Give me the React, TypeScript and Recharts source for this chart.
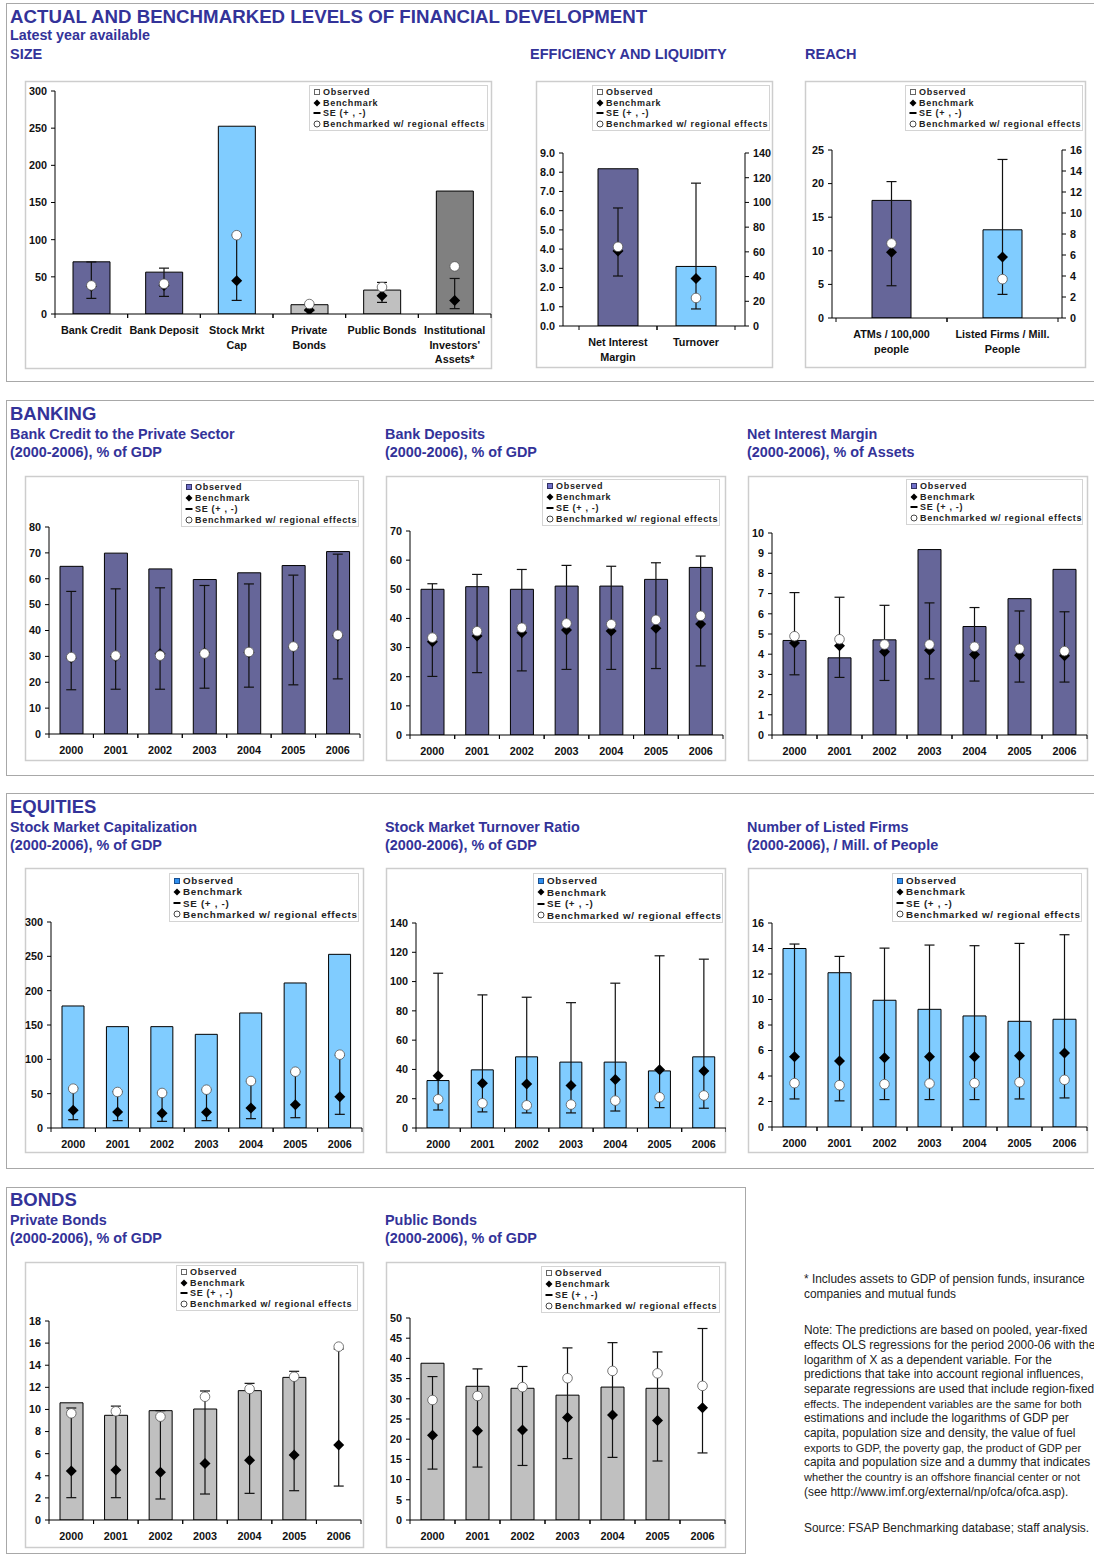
import React from 'react'
import { ComposedChart, Bar, Line, XAxis, YAxis, ErrorBar, Cell } from 'recharts'

const FONT = '"Liberation Sans", Arial, Helvetica, sans-serif'
const TITLE_BLUE = '#333399'
const PURPLE = '#666699'
const SKY = '#80CCFF'
const LIGHT_GRAY = '#C0C0C0'
const DARK_GRAY = '#808080'

// ---------- data ----------
const years = ['2000', '2001', '2002', '2003', '2004', '2005', '2006']

// size, latest year available
const sizeCats = ['Bank Credit', 'Bank Deposit', 'Stock Mrkt\nCap', 'Private\nBonds', 'Public Bonds', "Institutional\nInvestors'\nAssets*"]
const sizeObs = [70.2, 56.3, 252.6, 12.5, 32.2, 165.4]
const sizeBench = [37.5, 38.5, 44.7, 5.4, 24.6, 18.3]
const sizeLo = [21.0, 23.7, 18.3, 4.5, 15.6, 7.2]
const sizeHi = [70.0, 61.7, 106.0, 12.5, 42.5, 47.8]
const sizeReg = [38.4, 40.7, 106.0, 13.4, 36.2, 64.0]
const sizeTicks = [0, 50, 100, 150, 200, 250, 300]

// efficiency and liquidity (NIM on left axis, turnover on right axis)
const effCats = ['Net Interest\nMargin', 'Turnover']
const effObs = [8.18, 48.2]
const effBench = [3.9, 38.5]
const effLo = [2.6, 13.8]
const effHi = [6.14, 115.6]
const effReg = [4.12, 22.7]
const effLeftTicks = [0, 1, 2, 3, 4, 5, 6, 7, 8, 9]
const effRightTicks = [0, 20, 40, 60, 80, 100, 120, 140]

// reach (ATMs on left axis, listed firms on right axis)
const reachCats = ['ATMs / 100,000\npeople', 'Listed Firms / Mill.\nPeople']
const reachObs = [17.5, 8.4]
const reachBench = [9.8, 5.8]
const reachLo = [4.8, 2.25]
const reachHi = [20.3, 15.1]
const reachReg = [11.1, 3.7]
const reachLeftTicks = [0, 5, 10, 15, 20, 25]
const reachRightTicks = [0, 2, 4, 6, 8, 10, 12, 14, 16]

// banking
const bankCreditObs = [64.8, 69.9, 63.8, 59.7, 62.3, 65.1, 70.5]
const bankCreditBench = [29.4, 30.0, 31.0, 31.4, 31.5, 33.6, 38.0]
const bankCreditLo = [17.1, 17.3, 17.3, 17.7, 18.1, 19.0, 21.3]
const bankCreditHi = [55.1, 56.1, 56.5, 57.4, 58.0, 61.4, 69.5]
const bankCreditReg = [29.7, 30.3, 30.3, 31.1, 31.7, 33.8, 38.3]
const bankCreditTicks = [0, 10, 20, 30, 40, 50, 60, 70, 80]

const bankDepObs = [50.0, 50.9, 50.0, 51.1, 51.1, 53.4, 57.5]
const bankDepBench = [32.0, 34.0, 35.1, 36.0, 35.7, 36.6, 38.1]
const bankDepLo = [20.1, 21.4, 22.0, 22.5, 22.5, 22.8, 23.7]
const bankDepHi = [51.9, 55.1, 56.8, 58.2, 57.9, 59.1, 61.4]
const bankDepReg = [33.4, 35.6, 36.8, 38.3, 38.0, 39.5, 40.9]
const bankDepTicks = [0, 10, 20, 30, 40, 50, 60, 70]

const nimObs = [4.68, 3.82, 4.71, 9.18, 5.37, 6.75, 8.2]
const nimBench = [4.56, 4.42, 4.12, 4.2, 3.99, 3.95, 3.92]
const nimLo = [2.98, 2.85, 2.7, 2.78, 2.67, 2.62, 2.62]
const nimHi = [7.05, 6.82, 6.42, 6.54, 6.31, 6.14, 6.1]
const nimReg = [4.89, 4.74, 4.48, 4.48, 4.37, 4.27, 4.15]
const nimTicks = [0, 1, 2, 3, 4, 5, 6, 7, 8, 9, 10]

// equities
const mcapObs = [177.7, 147.6, 147.6, 136.4, 167.5, 211.2, 252.9]
const mcapBench = [25.7, 23.3, 21.4, 22.8, 29.1, 34.0, 45.6]
const mcapLo = [12.1, 10.7, 9.7, 10.7, 13.6, 15.0, 19.9]
const mcapHi = [58.0, 53.0, 51.5, 56.0, 68.0, 82.0, 106.0]
const mcapReg = [57.3, 52.4, 51.0, 55.8, 68.4, 82.0, 106.8]
const mcapTicks = [0, 50, 100, 150, 200, 250, 300]

const turnObs = [32.4, 39.7, 48.6, 45.0, 45.0, 39.0, 48.6]
const turnBench = [35.6, 30.6, 30.1, 29.0, 33.1, 39.7, 39.0]
const turnLo = [12.3, 11.0, 10.3, 10.3, 11.6, 13.9, 13.5]
const turnHi = [105.7, 90.9, 89.3, 85.6, 98.9, 117.6, 115.3]
const turnReg = [19.6, 16.9, 15.5, 16.0, 18.7, 21.0, 22.2]
const turnTicks = [0, 20, 40, 60, 80, 100, 120, 140]

const listedObs = [14.0, 12.1, 9.94, 9.23, 8.71, 8.29, 8.45]
const listedBench = [5.51, 5.17, 5.43, 5.51, 5.51, 5.59, 5.8]
const listedLo = [2.2, 2.05, 2.15, 2.15, 2.15, 2.2, 2.28]
const listedHi = [14.35, 13.38, 14.03, 14.27, 14.22, 14.4, 15.08]
const listedReg = [3.44, 3.28, 3.36, 3.41, 3.44, 3.51, 3.7]
const listedTicks = [0, 2, 4, 6, 8, 10, 12, 14, 16]

// bonds (no observed value for 2006)
const privObs = [10.6, 9.47, 9.89, 10.04, 11.7, 12.9, null]
const privBench = [4.43, 4.52, 4.31, 5.1, 5.4, 5.88, 6.78]
const privLo = [2.02, 2.02, 1.9, 2.35, 2.41, 2.65, 3.07]
const privHi = [10.13, 10.3, 9.89, 11.67, 12.36, 13.45, 15.47]
const privReg = [9.65, 9.83, 9.35, 11.15, 11.85, 12.96, 15.68]
const privTicks = [0, 2, 4, 6, 8, 10, 12, 14, 16, 18]

const pubObs = [38.8, 33.1, 32.6, 30.9, 32.9, 32.6, null]
const pubBench = [21.0, 22.1, 22.3, 25.4, 26.0, 24.6, 27.8]
const pubLo = [12.6, 13.1, 13.5, 15.2, 15.5, 14.6, 16.6]
const pubHi = [35.5, 37.4, 38.0, 42.6, 43.9, 41.6, 47.4]
const pubReg = [29.7, 30.7, 32.9, 35.1, 36.9, 36.3, 33.2]
const pubTicks = [0, 5, 10, 15, 20, 25, 30, 35, 40, 45, 50]

const legendLabels = ['Observed', 'Benchmark', 'SE (+ , -)', 'Benchmarked w/ regional effects']

const footnote = [
  '* Includes assets to GDP of pension funds, insurance',
  'companies and mutual funds',
  'Note: The predictions are based on pooled, year-fixed',
  'effects OLS regressions for the period 2000-06 with the',
  'logarithm of X as a dependent variable. For the',
  'predictions that take into account regional influences,',
  'separate regressions are used that include region-fixed',
  'effects. The independent variables are the same for both',
  'estimations and include the logarithms of GDP per',
  'capita, population size and density, the value of fuel',
  'exports to GDP, the poverty gap, the product of GDP per',
  'capita and population size and a dummy that indicates',
  'whether the country is an offshore financial center or not',
  '(see http://www.imf.org/external/np/ofca/ofca.asp).',
  'Source: FSAP Benchmarking database; staff analysis.',
]
const footnoteY = [1283, 1298, 1334, 1349, 1364, 1378, 1393, 1408, 1422, 1437, 1452, 1466, 1481, 1496, 1532]
// these lines run past the page edge at full size, so they use a slightly smaller font
const footnoteLong = [7, 10, 12]

// ---------- helpers ----------
type Box = { x: number; y: number; w: number; h: number }
type Plot = { left: number; top: number; right: number; bottom: number }

const makeRows = (cats: string[], obs: (number | null)[], bench: number[], lo: number[], hi: number[], reg: number[]) =>
  cats.map((cat, i) => ({ cat, obs: obs[i], bench: bench[i], lo: lo[i], hi: hi[i], reg: reg[i] }))

// each category gets its own axis pair: first one left, second one right
const makeDualRows = (cats: string[], obs: number[], bench: number[], lo: number[], hi: number[], reg: number[]) =>
  cats.map((cat, i) => {
    const s = i === 0 ? 'L' : 'R'
    return { cat, ['obs' + s]: obs[i], ['bench' + s]: bench[i], ['lo' + s]: lo[i], ['hi' + s]: hi[i], ['reg' + s]: reg[i] }
  })

// SE drawn as an asymmetric error bar around the benchmark
const seRange = (s: string) => (r: any) =>
  r['bench' + s] == null ? null : [r['bench' + s] - r['lo' + s], r['hi' + s] - r['bench' + s]]

const axisTick = { fontSize: 10.8, fontWeight: 'bold', fill: '#111', fontFamily: FONT }

const renderDiamond = (p: any) => {
  const { cx, cy, index, value } = p
  if (cx == null || cy == null || value == null) return <g key={`dm-${index}`} />
  const s = 5.5
  return (
    <polygon
      key={`dm-${index}`}
      points={`${cx},${cy - s} ${cx + s},${cy} ${cx},${cy + s} ${cx - s},${cy}`}
      fill="#000"
    />
  )
}

const renderCircle = (p: any) => {
  const { cx, cy, index, value } = p
  if (cx == null || cy == null || value == null) return <g key={`c-${index}`} />
  return <circle key={`c-${index}`} cx={cx} cy={cy} r={4.8} fill="#fff" stroke="#555" strokeWidth={0.8} />
}

const CatTick = (props: any) => {
  const { x, y, payload, half } = props
  const lines = String(payload.value).split('\n')
  return (
    <g>
      <line x1={x - half} x2={x - half} y1={y} y2={y + 4} stroke="#000" />
      <line x1={x + half} x2={x + half} y1={y} y2={y + 4} stroke="#000" />
      <text x={x} y={y + 20} textAnchor="middle" fontSize={10.8} fontWeight="bold" fontFamily={FONT} fill="#111">
        {lines.map((l, i) => (
          <tspan key={i} x={x} dy={i === 0 ? 0 : 14.5}>
            {l}
          </tspan>
        ))}
      </text>
    </g>
  )
}

function BenchChart({ box, plot, rows, yTicks, colors, barSize }: {
  box: Box; plot: Plot; rows: any[]; yTicks: number[]; colors: string[]; barSize: number
}) {
  const yW = plot.left - box.x
  const xH = box.y + box.h - plot.bottom
  const half = (plot.right - plot.left) / rows.length / 2
  return (
    <div style={{ position: 'absolute', left: box.x, top: box.y }}>
      <ComposedChart
        width={box.w}
        height={box.h}
        data={rows}
        margin={{ top: plot.top - box.y, right: box.x + box.w - plot.right, bottom: 0, left: 0 }}
      >
        <XAxis dataKey="cat" height={xH} interval={0} tickLine={false} tickSize={0} tickMargin={0}
          axisLine={{ stroke: '#000' }} tick={<CatTick half={half} />} />
        <YAxis width={yW} domain={[yTicks[0], yTicks[yTicks.length - 1]]} ticks={yTicks} interval={0}
          allowDataOverflow tickSize={4} tickMargin={4} axisLine={{ stroke: '#000' }} tickLine={{ stroke: '#000' }}
          tick={axisTick} />
        <Bar dataKey="obs" barSize={barSize} stroke="#000" strokeWidth={1} isAnimationActive={false}>
          {rows.map((r, i) => <Cell key={r.cat} fill={colors[i % colors.length]} />)}
        </Bar>
        <Line dataKey="bench" stroke="none" dot={renderDiamond} activeDot={false} isAnimationActive={false}>
          <ErrorBar dataKey={seRange('')} width={5} stroke="#111" strokeWidth={1.2} direction="y" isAnimationActive={false} />
        </Line>
        <Line dataKey="reg" stroke="none" dot={renderCircle} activeDot={false} isAnimationActive={false} />
      </ComposedChart>
    </div>
  )
}

function DualChart({ box, plot, rows, leftTicks, rightTicks, leftFmt, pad, barSize, colors }: {
  box: Box; plot: Plot; rows: any[]; leftTicks: number[]; rightTicks: number[]
  leftFmt?: (v: number) => string; pad: { left: number; right: number }; barSize: number; colors: string[]
}) {
  const yLW = plot.left - box.x
  const yRW = box.x + box.w - plot.right
  const xH = box.y + box.h - plot.bottom
  const half = (plot.right - plot.left - pad.left - pad.right) / rows.length / 2
  const yProps = {
    interval: 0 as const, allowDataOverflow: true, tickSize: 4, tickMargin: 4,
    axisLine: { stroke: '#000' }, tickLine: { stroke: '#000' }, tick: axisTick,
  }
  return (
    <div style={{ position: 'absolute', left: box.x, top: box.y }}>
      <ComposedChart width={box.w} height={box.h} data={rows} margin={{ top: plot.top - box.y, right: 0, bottom: 0, left: 0 }}>
        <XAxis xAxisId="l" dataKey="cat" height={xH} interval={0} padding={pad} tickLine={false} tickSize={0}
          tickMargin={0} axisLine={{ stroke: '#000' }} tick={<CatTick half={half} />} />
        <XAxis xAxisId="r" dataKey="cat" padding={pad} hide />
        <YAxis yAxisId="l" width={yLW} domain={[leftTicks[0], leftTicks[leftTicks.length - 1]]} ticks={leftTicks}
          tickFormatter={leftFmt} {...yProps} />
        <YAxis yAxisId="r" orientation="right" width={yRW} domain={[rightTicks[0], rightTicks[rightTicks.length - 1]]}
          ticks={rightTicks} {...yProps} />
        <Bar xAxisId="l" yAxisId="l" dataKey="obsL" barSize={barSize} fill={colors[0]} stroke="#000" isAnimationActive={false} />
        <Bar xAxisId="r" yAxisId="r" dataKey="obsR" barSize={barSize} fill={colors[1]} stroke="#000" isAnimationActive={false} />
        <Line xAxisId="l" yAxisId="l" dataKey="benchL" stroke="none" dot={renderDiamond} activeDot={false} isAnimationActive={false}>
          <ErrorBar dataKey={seRange('L')} width={5} stroke="#111" strokeWidth={1.2} direction="y" isAnimationActive={false} />
        </Line>
        <Line xAxisId="r" yAxisId="r" dataKey="benchR" stroke="none" dot={renderDiamond} activeDot={false} isAnimationActive={false}>
          <ErrorBar dataKey={seRange('R')} width={5} stroke="#111" strokeWidth={1.2} direction="y" isAnimationActive={false} />
        </Line>
        <Line xAxisId="l" yAxisId="l" dataKey="regL" stroke="none" dot={renderCircle} activeDot={false} isAnimationActive={false} />
        <Line xAxisId="r" yAxisId="r" dataKey="regR" stroke="none" dot={renderCircle} activeDot={false} isAnimationActive={false} />
      </ComposedChart>
    </div>
  )
}

const legendIcon = (i: number, swatch: { fill: string; stroke: string }) => {
  if (i === 0) return <rect x={1.5} y={1.5} width={5} height={5} fill={swatch.fill} stroke={swatch.stroke} strokeWidth={1} />
  if (i === 1) return <polygon points="4,0.5 7.5,4 4,7.5 0.5,4" fill="#000" />
  if (i === 2) return <rect x={0.5} y={3} width={7} height={2} fill="#000" />
  return <circle cx={4} cy={4} r={3} fill="#fff" stroke="#333" strokeWidth={0.9} />
}

function LegendBox({ box, swatch, fontSize }: { box: Box; swatch: { fill: string; stroke: string }; fontSize: number }) {
  const rowH = (box.h - 4) / 4
  return (
    <div style={{
      position: 'absolute', left: box.x, top: box.y, width: box.w, height: box.h, boxSizing: 'border-box',
      border: '1px solid #d4d4d4', background: '#fff', paddingTop: 1, paddingLeft: 3,
    }}>
      {legendLabels.map((label, i) => (
        <div key={label} style={{
          display: 'flex', alignItems: 'center', height: rowH, fontFamily: FONT, fontWeight: 'bold',
          fontSize, letterSpacing: 0.7, color: '#222', whiteSpace: 'nowrap',
        }}>
          <svg width={8} height={8} style={{ marginRight: 2, flexShrink: 0 }}>{legendIcon(i, swatch)}</svg>
          {label}
        </div>
      ))}
    </div>
  )
}

// ---------- layout ----------
const boxes: Record<string, Box> = {
  size: { x: 25, y: 81, w: 467, h: 288 },
  eff: { x: 536, y: 81, w: 237, h: 287 },
  reach: { x: 805, y: 81, w: 281, h: 287 },
  b1: { x: 25, y: 476, w: 339, h: 285 },
  b2: { x: 386, y: 476, w: 340, h: 285 },
  b3: { x: 748, y: 476, w: 340, h: 285 },
  e1: { x: 25, y: 868, w: 339, h: 285 },
  e2: { x: 386, y: 868, w: 340, h: 285 },
  e3: { x: 748, y: 868, w: 340, h: 285 },
  bo1: { x: 25, y: 1262, w: 339, h: 286 },
  bo2: { x: 386, y: 1262, w: 340, h: 286 },
}

const plots: Record<string, Plot> = {
  size: { left: 55, top: 91, right: 491, bottom: 314 },
  eff: { left: 563, top: 153, right: 745, bottom: 326 },
  reach: { left: 832, top: 150, right: 1062, bottom: 318 },
  b1: { left: 49, top: 527, right: 360, bottom: 734 },
  b2: { left: 410, top: 531, right: 723, bottom: 735 },
  b3: { left: 772, top: 533, right: 1087, bottom: 735 },
  e1: { left: 51, top: 922, right: 362, bottom: 1128 },
  e2: { left: 416, top: 923, right: 726, bottom: 1128 },
  e3: { left: 772, top: 923, right: 1087, bottom: 1127 },
  bo1: { left: 49, top: 1321, right: 361, bottom: 1520 },
  bo2: { left: 410, top: 1318, right: 725, bottom: 1520 },
}

const outlineSwatch = { fill: '#fff', stroke: '#666' }
const purpleSwatch = { fill: '#7070C8', stroke: '#333366' }
const blueSwatch = { fill: '#2F8FEF', stroke: '#1A4F8F' }

const headers = [
  { t: 'ACTUAL AND BENCHMARKED LEVELS OF FINANCIAL DEVELOPMENT', x: 10, y: 23, s: 18.7 },
  { t: 'Latest year available', x: 10, y: 40, s: 14.3 },
  { t: 'SIZE', x: 10, y: 59, s: 14.5 },
  { t: 'EFFICIENCY AND LIQUIDITY', x: 530, y: 59, s: 14.5 },
  { t: 'REACH', x: 805, y: 59, s: 14.5 },
  { t: 'BANKING', x: 10, y: 420, s: 18.5 },
  { t: 'Bank Credit to the Private Sector', x: 10, y: 439, s: 14.4 },
  { t: '(2000-2006), % of GDP', x: 10, y: 457, s: 14.4 },
  { t: 'Bank Deposits', x: 385, y: 439, s: 14.4 },
  { t: '(2000-2006), % of GDP', x: 385, y: 457, s: 14.4 },
  { t: 'Net Interest Margin', x: 747, y: 439, s: 14.4 },
  { t: '(2000-2006), % of Assets', x: 747, y: 457, s: 14.4 },
  { t: 'EQUITIES', x: 10, y: 813, s: 18.5 },
  { t: 'Stock Market Capitalization', x: 10, y: 832, s: 14.4 },
  { t: '(2000-2006), % of GDP', x: 10, y: 850, s: 14.4 },
  { t: 'Stock Market Turnover Ratio', x: 385, y: 832, s: 14.4 },
  { t: '(2000-2006), % of GDP', x: 385, y: 850, s: 14.4 },
  { t: 'Number of Listed Firms', x: 747, y: 832, s: 14.4 },
  { t: '(2000-2006), / Mill. of People', x: 747, y: 850, s: 14.4 },
  { t: 'BONDS', x: 10, y: 1206, s: 18.5 },
  { t: 'Private Bonds', x: 10, y: 1225, s: 14.4 },
  { t: '(2000-2006), % of GDP', x: 10, y: 1243, s: 14.4 },
  { t: 'Public Bonds', x: 385, y: 1225, s: 14.4 },
  { t: '(2000-2006), % of GDP', x: 385, y: 1243, s: 14.4 },
]

export default function App() {
  const sizeColors = [PURPLE, PURPLE, SKY, LIGHT_GRAY, LIGHT_GRAY, DARK_GRAY]
  return (
    <div style={{ position: 'absolute', left: 0, top: 0, width: 1094, height: 1556, background: '#fff', overflow: 'hidden', fontFamily: FONT }}>
      <svg width={1094} height={1556} style={{ position: 'absolute', left: 0, top: 0 }}>
        <g stroke="#a8a8a8" strokeWidth={1} fill="none">
          <path d="M6,3.5 H1094 M6.5,3 V381 M6,381.5 H1094" />
          <path d="M6,400.5 H1094 M6.5,400 V775 M6,775.5 H1094" />
          <path d="M6,793.5 H1094 M6.5,793 V1168 M6,1168.5 H1094" />
          <rect x={6.5} y={1187.5} width={739} height={366} />
        </g>
        {Object.keys(boxes).map((k) => (
          <rect key={k} x={boxes[k].x + 0.5} y={boxes[k].y + 0.5} width={boxes[k].w - 1} height={boxes[k].h - 1}
            fill="#fff" stroke="#cdcdcd" strokeWidth={1.5} />
        ))}
        {headers.map((h, i) => (
          <text key={i} x={h.x} y={h.y} fontSize={h.s} fontWeight="bold" fill={TITLE_BLUE} fontFamily={FONT}>{h.t}</text>
        ))}
        {footnote.map((l, i) => (
          <text key={i} x={804} y={footnoteY[i]} fontSize={footnoteLong.includes(i) ? 11.1 : 11.9} fill="#222" fontFamily={FONT}>
            {l}
          </text>
        ))}
      </svg>

      <BenchChart box={boxes.size} plot={plots.size} rows={makeRows(sizeCats, sizeObs, sizeBench, sizeLo, sizeHi, sizeReg)}
        yTicks={sizeTicks} colors={sizeColors} barSize={37} />
      <DualChart box={boxes.eff} plot={plots.eff} rows={makeDualRows(effCats, effObs, effBench, effLo, effHi, effReg)}
        leftTicks={effLeftTicks} rightTicks={effRightTicks} leftFmt={(v) => v.toFixed(1)} pad={{ left: 16, right: 10 }}
        barSize={40} colors={[PURPLE, SKY]} />
      <DualChart box={boxes.reach} plot={plots.reach} rows={makeDualRows(reachCats, reachObs, reachBench, reachLo, reachHi, reachReg)}
        leftTicks={reachLeftTicks} rightTicks={reachRightTicks} pad={{ left: 4, right: 4 }} barSize={39} colors={[PURPLE, SKY]} />

      <BenchChart box={boxes.b1} plot={plots.b1} rows={makeRows(years, bankCreditObs, bankCreditBench, bankCreditLo, bankCreditHi, bankCreditReg)}
        yTicks={bankCreditTicks} colors={[PURPLE]} barSize={23} />
      <BenchChart box={boxes.b2} plot={plots.b2} rows={makeRows(years, bankDepObs, bankDepBench, bankDepLo, bankDepHi, bankDepReg)}
        yTicks={bankDepTicks} colors={[PURPLE]} barSize={23} />
      <BenchChart box={boxes.b3} plot={plots.b3} rows={makeRows(years, nimObs, nimBench, nimLo, nimHi, nimReg)}
        yTicks={nimTicks} colors={[PURPLE]} barSize={23} />

      <BenchChart box={boxes.e1} plot={plots.e1} rows={makeRows(years, mcapObs, mcapBench, mcapLo, mcapHi, mcapReg)}
        yTicks={mcapTicks} colors={[SKY]} barSize={22} />
      <BenchChart box={boxes.e2} plot={plots.e2} rows={makeRows(years, turnObs, turnBench, turnLo, turnHi, turnReg)}
        yTicks={turnTicks} colors={[SKY]} barSize={22} />
      <BenchChart box={boxes.e3} plot={plots.e3} rows={makeRows(years, listedObs, listedBench, listedLo, listedHi, listedReg)}
        yTicks={listedTicks} colors={[SKY]} barSize={23} />

      <BenchChart box={boxes.bo1} plot={plots.bo1} rows={makeRows(years, privObs, privBench, privLo, privHi, privReg)}
        yTicks={privTicks} colors={[LIGHT_GRAY]} barSize={23} />
      <BenchChart box={boxes.bo2} plot={plots.bo2} rows={makeRows(years, pubObs, pubBench, pubLo, pubHi, pubReg)}
        yTicks={pubTicks} colors={[LIGHT_GRAY]} barSize={23} />

      <LegendBox box={{ x: 309, y: 85, w: 179, h: 46 }} swatch={outlineSwatch} fontSize={9} />
      <LegendBox box={{ x: 592, y: 85, w: 178, h: 46 }} swatch={outlineSwatch} fontSize={9} />
      <LegendBox box={{ x: 905, y: 85, w: 178, h: 46 }} swatch={outlineSwatch} fontSize={9} />
      <LegendBox box={{ x: 181, y: 480, w: 178, h: 47 }} swatch={purpleSwatch} fontSize={9} />
      <LegendBox box={{ x: 542, y: 479, w: 178, h: 47 }} swatch={purpleSwatch} fontSize={9} />
      <LegendBox box={{ x: 906, y: 479, w: 177, h: 46 }} swatch={purpleSwatch} fontSize={9} />
      <LegendBox box={{ x: 169, y: 873, w: 190, h: 49 }} swatch={blueSwatch} fontSize={9.8} />
      <LegendBox box={{ x: 533, y: 873, w: 190, h: 50 }} swatch={blueSwatch} fontSize={9.8} />
      <LegendBox box={{ x: 892, y: 873, w: 190, h: 49 }} swatch={blueSwatch} fontSize={9.8} />
      <LegendBox box={{ x: 176, y: 1265, w: 182, h: 46 }} swatch={outlineSwatch} fontSize={9} />
      <LegendBox box={{ x: 541, y: 1266, w: 179, h: 47 }} swatch={outlineSwatch} fontSize={9} />
    </div>
  )
}
